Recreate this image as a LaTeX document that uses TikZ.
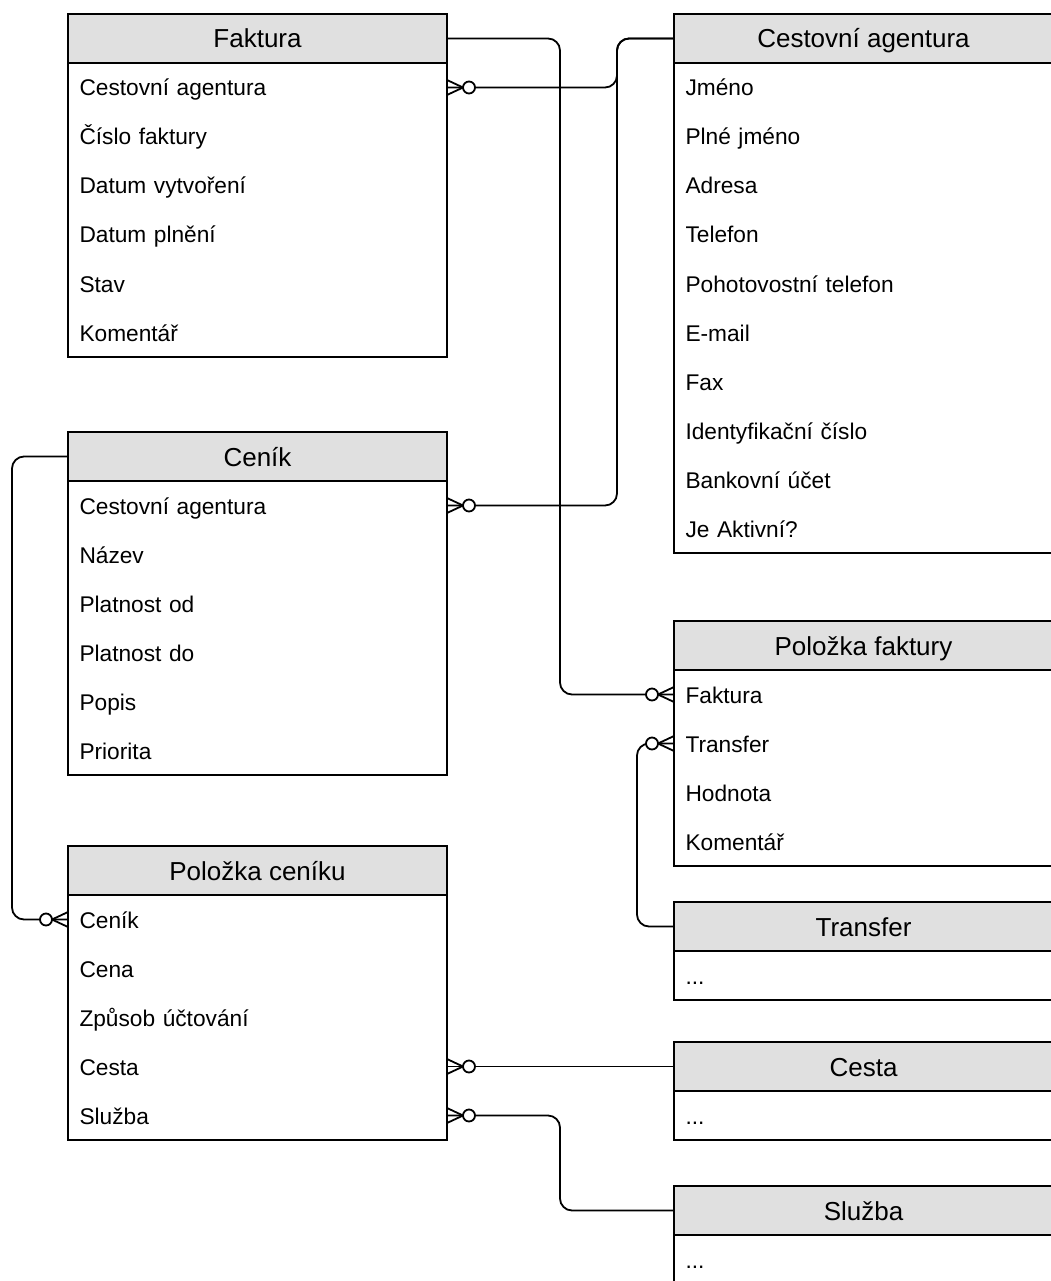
\documentclass[tikz,border=0pt]{standalone}
\usepackage{fontspec}
\setmainfont{Liberation Sans}
\usetikzlibrary{calc}

\definecolor{hdrgray}{RGB}{224,224,224}

% three literal dots, kept out of \foreach range syntax
\newcommand\threedots{...}

\tikzset{
  every node/.style={inner sep=0pt, outer sep=0pt},
  bodybox/.style={draw=black, fill=white, line width=1.9pt, minimum width=379pt, anchor=north west},
  hdr/.style={draw=black, fill=hdrgray, line width=1.9pt, minimum width=379pt, minimum height=49pt,
    anchor=north west, font=\fontsize{26pt}{30pt}\selectfont, text height=24pt, text depth=5pt},
  rowtxt/.style={minimum width=379pt, minimum height=49pt, inner xsep=11.5pt, anchor=north west,
    text width=356pt, align=left, font=\fontsize{22.7pt}{27pt}\selectfont, text height=21pt, text depth=4pt},
  conn/.style={draw=black, line width=1.8pt, rounded corners=12pt},
  foot/.style={draw=black, line width=1.8pt},
}

% entity box: id, left x, top y, number of rows, title, rows
\newcommand\entity[6]{%
  \node[bodybox, minimum height=#4*49pt+49pt] (#1) at (#2,#3) {};
  \node[hdr] (#1-h) at (#2,#3) {#5};
  \foreach \rowtext [count=\k] in {#6} {
    \node[rowtxt] (#1-r\k) at (#2,#3+\k*49) {\rowtext};
  }
}

% zero-or-many end: point on the entity edge, +1 if the line leaves rightwards, -1 leftwards
\newcommand\zeromany[2]{%
  \draw[foot] ($(#1)+(0,7.5)$) -- ($(#1)+(#2*16,0)$) -- ($(#1)+(0,-7.5)$);
  \draw[foot, fill=white] ($(#1)+(#2*22,0)$) circle (6pt);
}

\begin{document}
\begin{tikzpicture}[x=1pt, y=-1pt]
\useasboundingbox (0,0) rectangle (1051,1281);

\entity{fk}{68}{14}{6}{Faktura}{Cestovní agentura,Číslo faktury,Datum vytvoření,Datum plnění,Stav,Komentář}
\entity{cn}{68}{432}{6}{Ceník}{Cestovní agentura,Název,Platnost od,Platnost do,Popis,Priorita}
\entity{pc}{68}{846}{5}{Položka ceníku}{Ceník,Cena,Způsob účtování,Cesta,Služba}
\entity{ca}{674}{14}{10}{Cestovní agentura}{Jméno,Plné jméno,Adresa,Telefon,Pohotovostní telefon,E-mail,Fax,Identyfikační číslo,Bankovní účet,Je Aktivní?}
\entity{pf}{674}{621}{4}{Položka faktury}{Faktura,Transfer,Hodnota,Komentář}
\entity{tr}{674}{902}{1}{Transfer}{\threedots}
\entity{ce}{674}{1042}{1}{Cesta}{\threedots}
\entity{sl}{674}{1186}{1}{Služba}{\threedots}

% vertical runs of the connectors
\coordinate (busF) at (560,0);
\coordinate (busA) at (617,0);
\coordinate (busC) at (12,0);
\coordinate (busT) at (637,0);

% Faktura -> Položka faktury
\draw[conn] (fk-h.east) -- (fk-h.east -| busF) -- (busF |- pf-r1.west) -- (pf-r1.west);
% Cestovní agentura -> Faktura, Ceník
\draw[conn] (ca-h.west) -- (ca-h.west -| busA) -- (busA |- fk-r1.east) -- (fk-r1.east);
\draw[conn] (ca-h.west) -- (ca-h.west -| busA) -- (busA |- cn-r1.east) -- (cn-r1.east);
% Ceník -> Položka ceníku
\draw[conn] (cn-h.west) -- (cn-h.west -| busC) -- (busC |- pc-r1.west) -- (pc-r1.west);
% Transfer -> Položka faktury
\draw[conn] (tr-h.west) -- (tr-h.west -| busT) -- (busT |- pf-r2.west) -- (pf-r2.west);
% Cesta -> Položka ceníku
\draw[conn] (ce-h.west) -- (pc-r4.east);
% Služba -> Položka ceníku
\draw[conn] (sl-h.west) -- (sl-h.west -| busF) -- (busF |- pc-r5.east) -- (pc-r5.east);

\zeromany{pf-r1.west}{-1}
\zeromany{pf-r2.west}{-1}
\zeromany{fk-r1.east}{1}
\zeromany{cn-r1.east}{1}
\zeromany{pc-r1.west}{-1}
\zeromany{pc-r4.east}{1}
\zeromany{pc-r5.east}{1}
\end{tikzpicture}
\end{document}
